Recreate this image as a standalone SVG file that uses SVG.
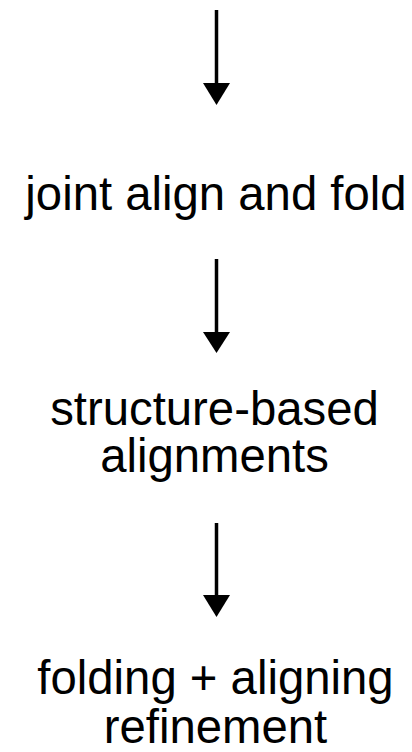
<svg xmlns="http://www.w3.org/2000/svg" width="412" height="752" viewBox="0 0 412 752">
<style>
text{font-family:"Liberation Sans",Arial,sans-serif;font-size:47.3px;fill:#000;text-anchor:middle}
.c line{stroke:#000;stroke-width:3.5}
.c polygon{fill:#000}
</style>
<rect width="412" height="752" fill="#fff"/>
<g id="connectors" class="c">
<line x1="216.5" y1="10" x2="216.5" y2="85"/><polygon points="203,83 230,83 216.5,105"/>
<line x1="216.5" y1="259" x2="216.5" y2="334"/><polygon points="203,332 230,332 216.5,353"/>
<line x1="216.5" y1="523" x2="216.5" y2="597"/><polygon points="203,595 230,595 216.5,617"/>
</g>
<g id="n1"><text x="216" y="210">joint align and fold</text></g>
<g id="n2"><text x="214.5" y="425">structure-based</text><text x="214.5" y="472">alignments</text></g>
<g id="n3"><text x="215.5" y="694">folding + aligning</text><text x="215.5" y="743">refinement</text></g>
</svg>
